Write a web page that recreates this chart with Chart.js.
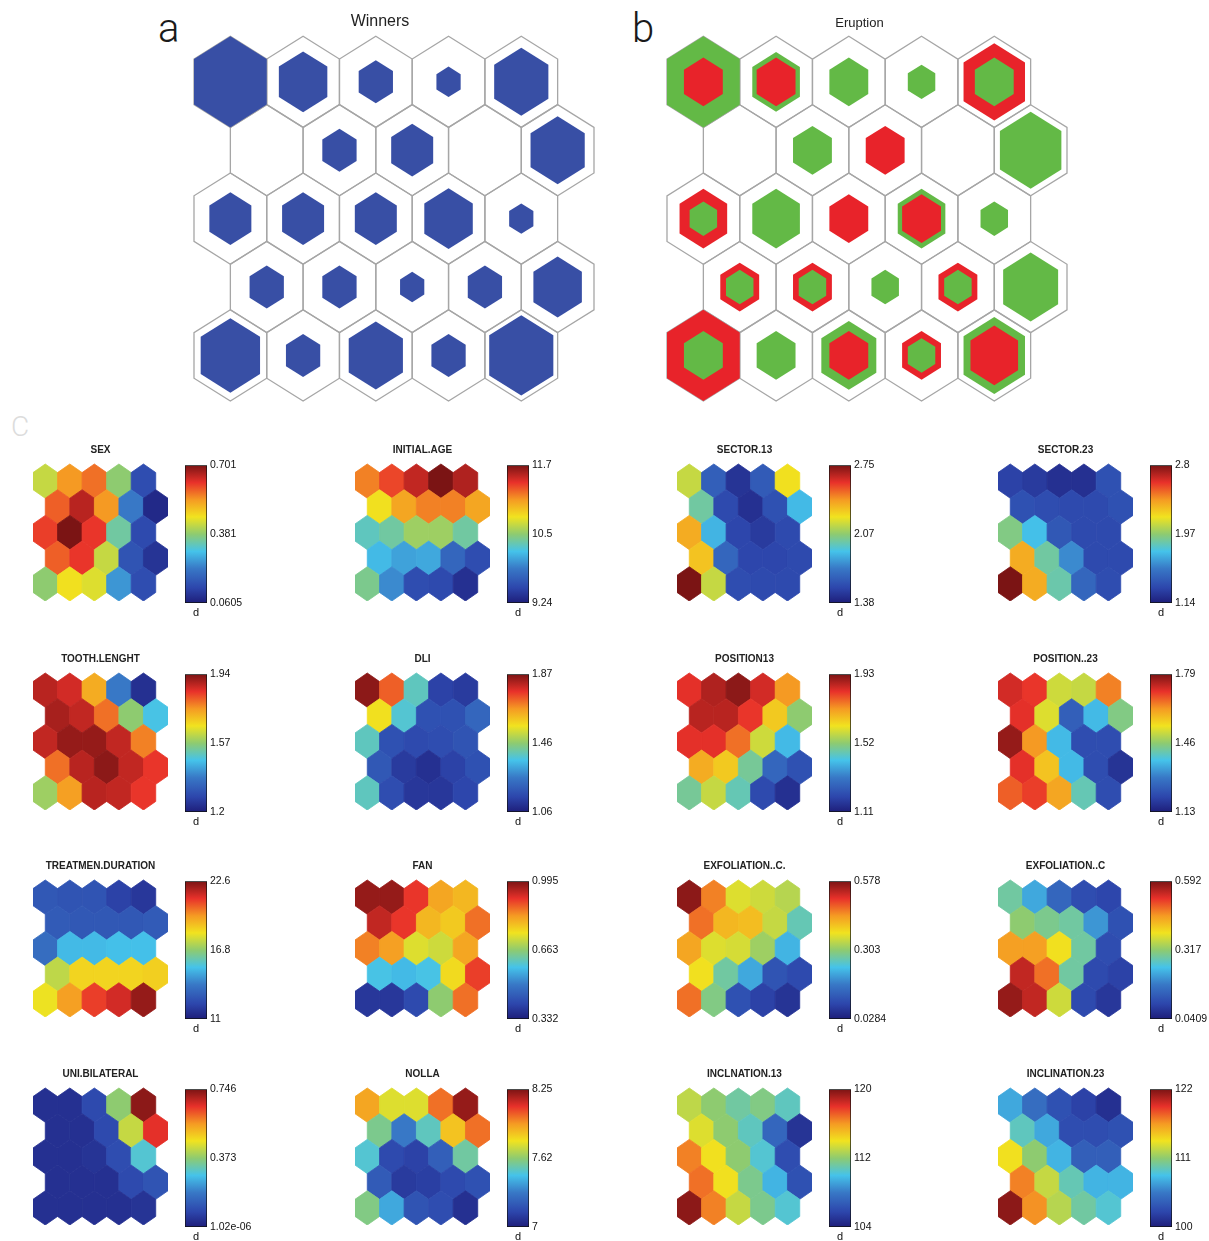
<!DOCTYPE html>
<html>
<head>
<meta charset="utf-8">
<script src="https://cdn.jsdelivr.net/npm/chart.js@4.4.1/dist/chart.umd.min.js"></script>
<style>
  body { margin: 0; background: #fff; width: 1209px; height: 1241px; position: relative; overflow: hidden; }
  .box { position: absolute; }
  .lbl { position: absolute; font-family: Roboto, "Open Sans", sans-serif; font-weight: 300; line-height: 1; color: #1a1a1a; }
</style>
</head>
<body>
<div class="lbl" style="left:158px;top:9px;font-size:40px">a</div>
<div class="lbl" style="left:632px;top:9px;font-size:40px">b</div>
<div class="lbl" style="left:11px;top:413px;font-size:28px;color:#dcdcdc">C</div>
<script>
// ---- data ----
// hits per SOM neuron, rows top -> bottom (rows 2 and 4 are shifted half a cell right)
const winnersHits = [
  [9, 4, 2, 1, 5],
  [0, 2, 3, 0, 5],
  [3, 3, 3, 4, 1],
  [2, 2, 1, 2, 4],
  [6, 2, 5, 2, 7]
];
const eruptionGreen = [
  [7, 3, 2, 1, 2],
  [0, 2, 0, 0, 5],
  [1, 3, 0, 3, 1],
  [1, 1, 1, 1, 4],
  [2, 2, 4, 1, 5]
];
const eruptionRed = [
  [2, 2, 0, 0, 5],
  [0, 0, 2, 0, 0],
  [3, 0, 2, 2, 0],
  [2, 2, 0, 2, 0],
  [7, 0, 2, 2, 3]
];

const planeNames = ["SEX", "INITIAL.AGE", "SECTOR.13", "SECTOR.23",
  "TOOTH.LENGHT", "DLI", "POSITION13", "POSITION..23",
  "TREATMEN.DURATION", "FAN", "EXFOLIATION..C.", "EXFOLIATION..C",
  "UNI.BILATERAL", "NOLLA", "INCLNATION.13", "INCLINATION.23"];
const planeMin = [0.0605, 9.24, 1.38, 1.14, 1.2, 1.06, 1.11, 1.13, 11, 0.332, 0.0284, 0.0409, 1.02e-06, 7, 104, 100];
const planeMax = [0.701, 11.7, 2.75, 2.8, 1.94, 1.87, 1.93, 1.79, 22.6, 0.995, 0.578, 0.592, 0.746, 8.25, 120, 122];
// colorbar tick labels: bottom, middle, top
const planeTicks = [
  ["0.0605", "0.381", "0.701"], ["9.24", "10.5", "11.7"], ["1.38", "2.07", "2.75"], ["1.14", "1.97", "2.8"],
  ["1.2", "1.57", "1.94"], ["1.06", "1.46", "1.87"], ["1.11", "1.52", "1.93"], ["1.13", "1.46", "1.79"],
  ["11", "16.8", "22.6"], ["0.332", "0.663", "0.995"], ["0.0284", "0.303", "0.578"], ["0.0409", "0.317", "0.592"],
  ["1.02e-06", "0.373", "0.746"], ["7", "7.62", "8.25"], ["104", "112", "120"], ["100", "111", "122"]
];
// component plane levels, 0 = bottom of colour range, 1 = top
const planeLevels = [
  [[0.57,0.75,0.80,0.50,0.13],[0.82,0.93,0.75,0.25,0.03],[0.86,1.00,0.87,0.45,0.12],[0.82,0.87,0.57,0.15,0.06],[0.50,0.63,0.60,0.30,0.13]],
  [[0.78,0.85,0.92,1.00,0.94],[0.63,0.73,0.78,0.78,0.73],[0.42,0.45,0.52,0.52,0.45],[0.36,0.32,0.33,0.20,0.13],[0.47,0.28,0.13,0.12,0.05]],
  [[0.57,0.18,0.06,0.17,0.63],[0.45,0.12,0.05,0.14,0.36],[0.72,0.35,0.11,0.08,0.12],[0.68,0.20,0.11,0.11,0.12],[1.00,0.57,0.13,0.12,0.12]],
  [[0.10,0.08,0.05,0.05,0.14],[0.14,0.13,0.12,0.12,0.14],[0.48,0.37,0.16,0.12,0.12],[0.72,0.45,0.28,0.12,0.12],[1.00,0.72,0.44,0.20,0.13]],
  [[0.93,0.90,0.72,0.25,0.05],[0.95,0.92,0.80,0.50,0.38],[0.92,0.97,0.97,0.92,0.78],[0.80,0.93,0.98,0.92,0.87],[0.52,0.74,0.93,0.92,0.87]],
  [[0.98,0.82,0.42,0.10,0.08],[0.63,0.40,0.14,0.14,0.20],[0.42,0.14,0.12,0.13,0.15],[0.16,0.08,0.05,0.10,0.14],[0.42,0.13,0.07,0.07,0.11]],
  [[0.88,0.94,0.98,0.90,0.75],[0.93,0.93,0.87,0.67,0.50],[0.88,0.88,0.80,0.58,0.36],[0.72,0.67,0.46,0.20,0.14],[0.46,0.57,0.43,0.12,0.05]],
  [[0.90,0.87,0.58,0.57,0.78],[0.88,0.60,0.18,0.36,0.48],[0.97,0.75,0.36,0.13,0.13],[0.88,0.68,0.36,0.13,0.06],[0.82,0.86,0.73,0.43,0.13]],
  [[0.16,0.15,0.15,0.10,0.07],[0.17,0.16,0.16,0.16,0.17],[0.22,0.36,0.36,0.37,0.37],[0.56,0.65,0.65,0.65,0.66],[0.62,0.74,0.86,0.90,0.97]],
  [[0.97,0.97,0.87,0.73,0.70],[0.92,0.87,0.70,0.67,0.80],[0.78,0.74,0.60,0.58,0.73],[0.38,0.36,0.38,0.64,0.86],[0.07,0.07,0.12,0.50,0.80]],
  [[0.98,0.78,0.60,0.58,0.55],[0.80,0.70,0.69,0.57,0.43],[0.73,0.60,0.59,0.52,0.35],[0.63,0.45,0.33,0.15,0.12],[0.80,0.48,0.14,0.10,0.06]],
  [[0.45,0.33,0.20,0.13,0.11],[0.50,0.47,0.45,0.30,0.14],[0.74,0.74,0.63,0.45,0.13],[0.92,0.80,0.45,0.12,0.10],[0.97,0.92,0.58,0.12,0.07]],
  [[0.05,0.05,0.12,0.50,0.98],[0.05,0.05,0.12,0.57,0.88],[0.05,0.05,0.06,0.13,0.40],[0.05,0.05,0.05,0.12,0.15],[0.05,0.05,0.05,0.05,0.06]],
  [[0.73,0.60,0.60,0.80,0.97],[0.47,0.25,0.42,0.68,0.80],[0.40,0.12,0.10,0.18,0.45],[0.17,0.08,0.09,0.12,0.14],[0.48,0.33,0.15,0.13,0.05]],
  [[0.56,0.50,0.45,0.48,0.42],[0.60,0.50,0.42,0.20,0.06],[0.78,0.63,0.50,0.40,0.13],[0.80,0.63,0.47,0.35,0.14],[0.98,0.78,0.57,0.47,0.40]],
  [[0.33,0.22,0.14,0.10,0.05],[0.42,0.33,0.13,0.13,0.14],[0.63,0.50,0.35,0.18,0.18],[0.78,0.57,0.43,0.35,0.35],[0.98,0.76,0.55,0.45,0.40]]
];

// ---- styles ----
const BLUE = "#384fa5", GREEN = "#63b946", RED = "#e8232a", OUTLINE = "#a6a6a6";
const FONT = "'Liberation Sans', Arial, sans-serif";
const JET = [
  [0.000, [30, 30, 122]], [0.110, [45, 70, 172]], [0.250, [56, 120, 198]],
  [0.375, [69, 195, 234]], [0.500, [142, 203, 112]], [0.625, [241, 227, 31]],
  [0.750, [245, 154, 35]], [0.875, [232, 49, 42]], [1.000, [123, 20, 20]]
];

function jet(t) {
  t = Math.max(0, Math.min(1, t));
  for (let i = 1; i < JET.length; i++) {
    if (t <= JET[i][0]) {
      const [t0, c0] = JET[i - 1], [t1, c1] = JET[i];
      const f = (t - t0) / (t1 - t0);
      const c = c0.map((v, k) => Math.round(v + (c1[k] - v) * f));
      return `rgb(${c[0]},${c[1]},${c[2]})`;
    }
  }
  return "rgb(123,20,20)";
}

// hex geometry in data units: column spacing 1, row spacing sqrt(3)/2
const S3 = Math.sqrt(3);
const R = 1 / S3;
const HEX = [-90, -30, 30, 90, 150, 210].map(a => [R * Math.cos(a * Math.PI / 180), R * Math.sin(a * Math.PI / 180)]);
const cellX = (r, c) => c + (r % 2) * 0.5;
const cellY = r => r * S3 / 2;

// draws every point of every dataset as a hexagon through the chart scales
const hexPlugin = {
  id: "hexCells",
  afterDatasetsDraw(chart) {
    const { ctx } = chart;
    const xs = chart.scales.x, ys = chart.scales.y;
    chart.data.datasets.forEach(ds => {
      ds.data.forEach(p => {
        if (!p.s) return;
        ctx.beginPath();
        HEX.forEach(([dx, dy], k) => {
          const px = xs.getPixelForValue(p.x + dx * p.s);
          const py = ys.getPixelForValue(p.y + dy * p.s);
          if (k) ctx.lineTo(px, py); else ctx.moveTo(px, py);
        });
        ctx.closePath();
        const fill = p.fill || ds.hexFill;
        if (fill) { ctx.fillStyle = fill; ctx.fill(); }
        const stroke = ds.hexStroke || (ds.selfStroke ? fill : null);
        if (stroke) { ctx.strokeStyle = stroke; ctx.lineWidth = ds.hexLine || 1; ctx.stroke(); }
      });
    });
  }
};

function addCanvas(left, top, w, h) {
  const d = document.createElement("div");
  d.className = "box";
  d.style.cssText = `left:${left}px;top:${top}px;width:${w}px;height:${h}px`;
  const c = document.createElement("canvas");
  d.appendChild(c);
  document.body.appendChild(d);
  return c;
}

// gutter: empty room left of the map so the title sits left of the map centre
function hexChart(canvas, datasets, title, titleFont, titleBottom, pad, gutter) {
  return new Chart(canvas, {
    type: "scatter",
    data: { datasets },
    options: {
      responsive: true, maintainAspectRatio: false, animation: false, events: [],
      layout: { padding: pad },
      elements: { point: { radius: 0 } },
      plugins: {
        legend: { display: false },
        tooltip: { enabled: false },
        title: { display: true, text: title, color: "#222", font: titleFont, padding: { top: 0, bottom: titleBottom } }
      },
      scales: {
        x: { display: false, min: -0.5, max: 5 },
        y: {
          display: gutter > 0, reverse: true, min: -R, max: 4 * S3 / 2 + R,
          ticks: { display: false }, grid: { display: false, drawTicks: false }, border: { display: false },
          afterFit: s => { s.width = gutter; }
        }
      }
    },
    plugins: [hexPlugin]
  });
}

function allCells(fn) {
  const out = [];
  for (let r = 0; r < 5; r++) for (let c = 0; c < 5; c++) out.push(Object.assign({ x: cellX(r, c), y: cellY(r) }, fn(r, c)));
  return out;
}

// ---- panel a: Winners ----
const winMax = Math.max(...winnersHits.flat());
hexChart(addCanvas(164, 10, 432, 393), [
  { data: allCells(() => ({ s: 1 })), hexStroke: OUTLINE, hexLine: 1.3 },
  { data: allCells((r, c) => ({ s: Math.sqrt(winnersHits[r][c] / winMax) })), hexFill: BLUE }
], "Winners", { family: FONT, size: 16, weight: "normal" }, 5, { left: 2, right: 2, top: 2, bottom: 2 }, 28);

// ---- panel b: Eruption (larger class drawn behind the smaller one) ----
const erMax = Math.max(...eruptionGreen.flat(), ...eruptionRed.flat());
const back = allCells((r, c) => {
  const g = eruptionGreen[r][c], d = eruptionRed[r][c];
  return g >= d ? { s: Math.sqrt(g / erMax), fill: GREEN } : { s: Math.sqrt(d / erMax), fill: RED };
});
const front = allCells((r, c) => {
  const g = eruptionGreen[r][c], d = eruptionRed[r][c];
  return g >= d ? { s: Math.sqrt(d / erMax), fill: RED } : { s: Math.sqrt(g / erMax), fill: GREEN };
});
hexChart(addCanvas(650, 14, 419, 389), [
  { data: allCells(() => ({ s: 1 })), hexStroke: OUTLINE, hexLine: 1.3 },
  { data: back },
  { data: front }
], "Eruption", { family: FONT, size: 13, weight: "normal" }, 4.7, { left: 2, right: 2, top: 2, bottom: 2 }, 15);

// ---- panel c: component planes ----
const planeLeft = [33, 355, 677, 998];
const barTop = [463, 672, 879, 1087];

planeNames.forEach((name, i) => {
  const col = i % 4, row = Math.floor(i / 4);
  const hexLeft = planeLeft[col], hexTop = barTop[row] + 1;
  const lv = planeLevels[i];
  hexChart(addCanvas(hexLeft, hexTop - 20, 135, 157), [
    { data: allCells((r, c) => ({ s: 1, fill: jet(lv[r][c]) })), selfStroke: true, hexLine: 0.8 }
  ], name, { family: FONT, size: 10, weight: "bold" }, 8, 0, 0);

  const lo = planeMin[i], hi = planeMax[i], mid = (lo + hi) / 2;
  new Chart(addCanvas(hexLeft + 152, barTop[row] - 7, 68, 165), {
    type: "bar",
    data: {
      labels: ["d"],
      datasets: [{
        data: [[lo, hi]],
        backgroundColor: ctx => {
          const a = ctx.chart.chartArea;
          if (!a) return "#888";
          const g = ctx.chart.ctx.createLinearGradient(0, a.bottom, 0, a.top);
          JET.forEach(([t, c]) => g.addColorStop(t, `rgb(${c[0]},${c[1]},${c[2]})`));
          return g;
        },
        borderColor: "#111", borderWidth: 1, borderSkipped: false,
        barPercentage: 1, categoryPercentage: 1
      }]
    },
    options: {
      responsive: true, maintainAspectRatio: false, animation: false, events: [],
      layout: { padding: { top: 7, left: 0, right: 0, bottom: 0 } },
      plugins: { legend: { display: false }, tooltip: { enabled: false } },
      scales: {
        x: {
          grid: { display: false, drawTicks: false }, border: { display: false },
          ticks: { color: "#111", font: { family: FONT, size: 11 }, padding: 3 },
          afterFit: s => { s.height = 18; }
        },
        y: {
          position: "right", min: lo, max: hi,
          grid: { display: false, drawTicks: false }, border: { display: false },
          afterBuildTicks: s => { s.ticks = [lo, mid, hi].map(v => ({ value: v })); },
          ticks: { autoSkip: false, color: "#111", padding: 3, font: { family: FONT, size: 10.5 },
            callback: (v, idx) => planeTicks[i][idx] },
          afterFit: s => { s.width = 46; }
        }
      }
    }
  });
});
</script>
</body>
</html>
